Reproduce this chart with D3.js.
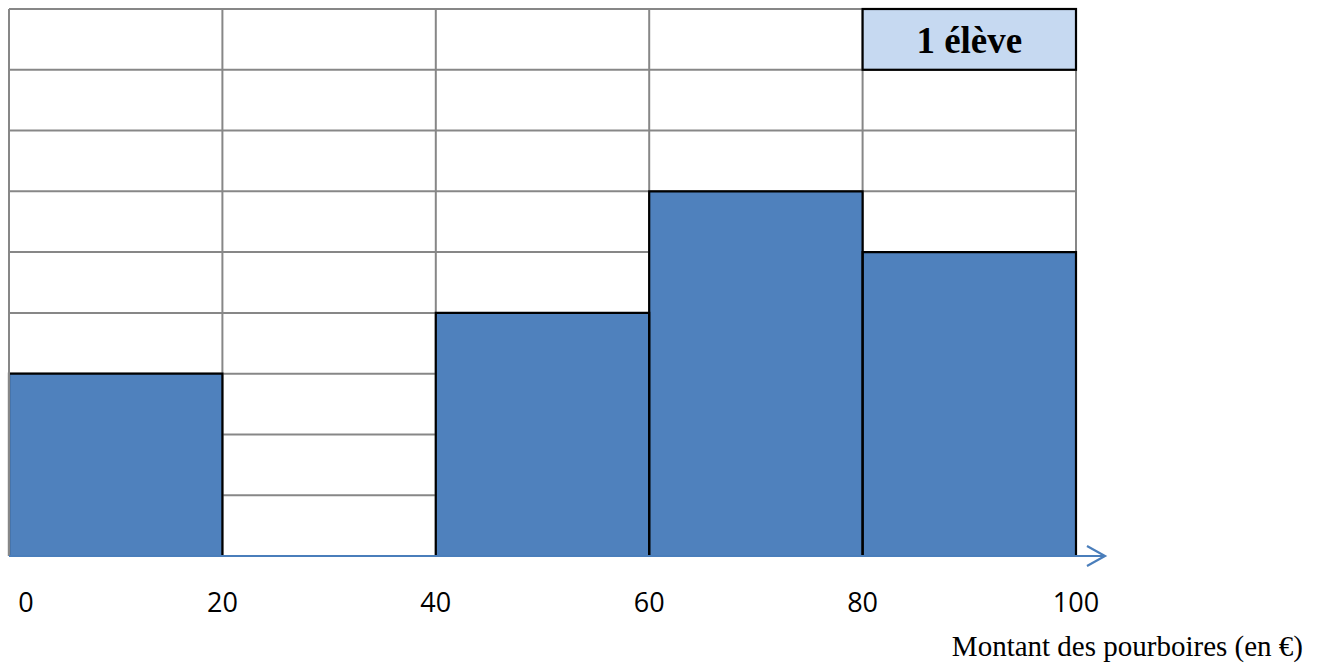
<!DOCTYPE html>
<html><head><meta charset="utf-8">
<script src="https://cdn.jsdelivr.net/npm/d3@7"></script>
<style>body{margin:0;background:#fff}svg{display:block}</style>
</head><body>
<svg id="c" width="1323" height="666"></svg>
<script>
const binStarts = [0, 20, 40, 60, 80];
const binEnds = [20, 40, 60, 80, 100];
const counts = [3, 0, 4, 6, 5];
const tickValues = [0, 20, 40, 60, 80, 100];
const tickLabels = ["0", "20", "40", "60", "80", "100"];
const gridRows = [0,1,2,3,4,5,6,7,8,9];
const legendText = "1 élève";
const axisTitle = "Montant des pourboires (en €)";

const svg = d3.select("#c");
const x = d3.scaleLinear().domain([0, 100]).range([9, 1076]);
const y = d3.scaleLinear().domain([0, 9]).range([556, 9]);

// grid
const g = svg.append("g");
g.selectAll("line.h").data(gridRows).join("line")
  .attr("x1", x(0)).attr("x2", x(100))
  .attr("y1", d => y(d)).attr("y2", d => y(d))
  .attr("stroke", "#878787").attr("stroke-width", 2);
g.selectAll("line.v").data(tickValues).join("line")
  .attr("y1", y(0)).attr("y2", y(9))
  .attr("x1", d => x(d)).attr("x2", d => x(d))
  .attr("stroke", "#878787").attr("stroke-width", 2);

// bars
const bars = binStarts.map((s, i) => ({s, e: binEnds[i], c: counts[i]})).filter(d => d.c > 0);
svg.selectAll("rect.bar").data(bars).join("rect")
  .attr("x", d => x(d.s)).attr("width", d => x(d.e) - x(d.s))
  .attr("y", d => y(d.c)).attr("height", d => y(0) - y(d.c))
  .attr("fill", "#4F81BD");
svg.selectAll("path.bar").data(bars).join("path")
  .attr("d", d => `M${x(d.s)},${y(0)}V${y(d.c)}H${x(d.e)}V${y(0)}`)
  .attr("fill", "none").attr("stroke", "#000").attr("stroke-width", 2.2);
// outer left border stays grey
svg.append("line").attr("x1", x(0)).attr("x2", x(0)).attr("y1", y(9)).attr("y2", y(0))
  .attr("stroke", "#878787").attr("stroke-width", 2);

// legend box
svg.append("rect").attr("x", x(80)).attr("width", x(100) - x(80))
  .attr("y", y(9)).attr("height", y(8) - y(9))
  .attr("fill", "#C6D9F1").attr("stroke", "#000").attr("stroke-width", 2.2);
svg.append("text").attr("x", (x(80) + x(100)) / 2).attr("y", 53)
  .attr("text-anchor", "middle").attr("font-family", "Liberation Serif, serif")
  .attr("font-weight", "bold").attr("font-size", 37).text(legendText);

// axis
svg.append("line").attr("x1", x(0)).attr("x2", 1104).attr("y1", y(0)).attr("y2", y(0))
  .attr("stroke", "#4A7EBB").attr("stroke-width", 2.2);
svg.append("path").attr("d", `M1087,546L1105,${y(0)}L1087,566`)
  .attr("fill", "none").attr("stroke", "#4A7EBB").attr("stroke-width", 2.2);

// tick labels
svg.selectAll("text.tick").data(tickValues).join("text")
  .attr("x", d => Math.max(x(d), 26)).attr("y", 612)
  .attr("text-anchor", "middle").attr("font-family", "Open Sans, sans-serif")
  .attr("font-size", 27).attr("fill", "#000")
  .text((d, i) => tickLabels[i]);

svg.append("text").attr("x", 1303).attr("y", 656).attr("text-anchor", "end")
  .attr("font-family", "Liberation Serif, serif").attr("font-size", 29).text(axisTitle);
</script>
</body></html>
